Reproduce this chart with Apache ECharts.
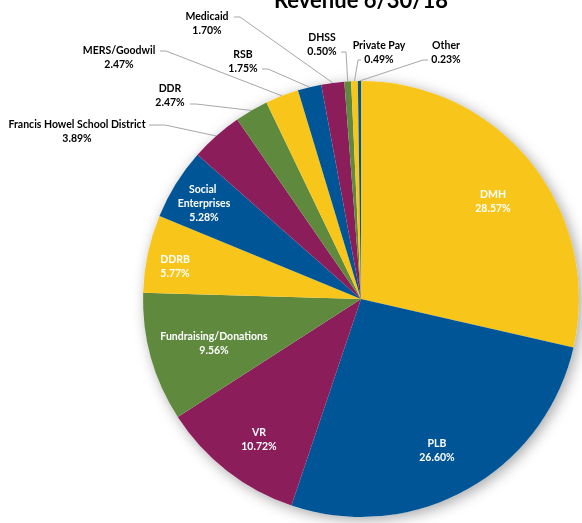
<!DOCTYPE html>
<html>
<head>
<meta charset="utf-8">
<script src="https://cdn.jsdelivr.net/npm/echarts@6/dist/echarts.min.js"></script>
<style>
html,body{margin:0;padding:0;background:#fff;}
#chart{width:582px;height:523px;}
</style>
</head>
<body>
<div id="chart"></div>
<script>
const title = 'Revenue 6/30/18';
const categories = ['DMH', 'PLB', 'VR', 'Fundraising/Donations', 'DDRB', 'Social Enterprises',
  'Francis Howel School District', 'DDR', 'MERS/Goodwil', 'RSB', 'Medicaid', 'DHSS', 'Private Pay', 'Other'];
const values = [28.57, 26.60, 10.72, 9.56, 5.77, 5.28, 3.89, 2.47, 2.47, 1.75, 1.70, 0.50, 0.49, 0.23];

const palette = ['#F8C51A', '#005596', '#8B1D5B', '#5F8A3E'];
const CX = 361, CY = 299, R = 218;
const FONT = 'Lato, "Open Sans", sans-serif';
const insideCount = 6;

// label placement (styling only)
const labelPlace = [
  {pos: [493, 202]},
  {pos: [437, 451]},
  {pos: [259, 440]},
  {pos: [214, 344]},
  {pos: [175, 267]},
  {pos: [204, 204]},
  {pos: [77, 132], bend: [165, 125], end: [149, 125]},
  {pos: [170, 96], bend: [196, 104], end: [190, 104]},
  {pos: [119, 58], bend: [166, 51], end: [160, 51]},
  {pos: [243, 62], bend: [268, 69], end: [262, 69]},
  {pos: [207, 24], bend: [240, 17], end: [234, 17]},
  {pos: [322, 45], bend: [346, 52], end: [341, 52]},
  {pos: [379, 53], bend: [358, 60], end: [361, 60]},
  {pos: [446, 53], bend: [423, 60], end: [428, 60]}
];

const data = categories.map((name, i) => {
  const item = {name: name, value: values[i]};
  if (i < insideCount) {
    item.label = {position: 'inside', color: '#ffffff'};
    item.labelLine = {show: false};
    if (name === 'Social Enterprises') { item.label.width = 70; item.label.overflow = 'break'; }
  }
  return item;
});

const chart = echarts.init(document.getElementById('chart'), null, {renderer: 'canvas'});
chart.setOption({
  animation: false,
  color: palette,
  graphic: [{
    type: 'text', x: CX, y: -10, z: 100,
    style: {text: title, fill: '#000', align: 'center', verticalAlign: 'top',
      font: 'bold 22px ' + FONT}
  }],
  series: [
    {
      type: 'pie', silent: true, center: [CX, CY], radius: R, z: 1,
      label: {show: false}, labelLine: {show: false},
      itemStyle: {color: '#ffffff', shadowBlur: 14, shadowOffsetX: 3, shadowOffsetY: 3, shadowColor: 'rgba(0,0,0,0.35)'},
      data: [{value: 1, name: ''}]
    },
    {
      type: 'pie', center: [CX, CY], radius: R, startAngle: 90, clockwise: true, z: 2,
      avoidLabelOverlap: false,
      itemStyle: {borderWidth: 0},
      label: {
        show: true, position: 'outside', color: '#000', fontFamily: FONT, fontWeight: 'bold',
        fontSize: 10.5, lineHeight: 14, align: 'center',
        formatter: p => p.name + '\n' + p.value.toFixed(2) + '%'
      },
      labelLine: {show: true, length: 10, length2: 10, lineStyle: {color: '#a6a6a6', width: 1}},
      labelLayout: function (params) {
        const cfg = labelPlace[params.dataIndex];
        const out = {x: cfg.pos[0], y: cfg.pos[1], align: 'center', verticalAlign: 'middle'};
        if (cfg.end && params.labelLinePoints) {
          out.labelLinePoints = [params.labelLinePoints[0], cfg.bend, cfg.end];
        }
        return out;
      },
      data: data
    }
  ]
});
</script>
</body>
</html>
